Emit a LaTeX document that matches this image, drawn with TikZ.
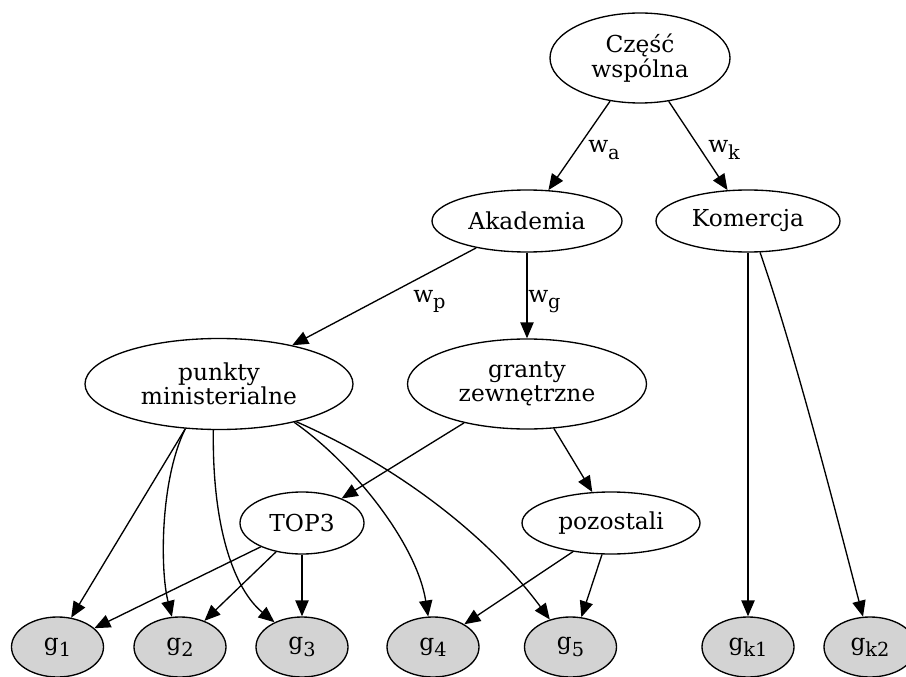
\documentclass[tikz,border=0pt]{standalone}
\usepackage{fontspec}
\setmainfont{DejaVu Serif}
\usetikzlibrary{shapes.geometric,arrows.meta}
\newcommand\mysub[1]{\raisebox{-4.7pt}{\fontsize{14.5}{14.5}\selectfont #1}}
\definecolor{gfill}{HTML}{D3D3D3}
\begin{document}
\begin{tikzpicture}[x=0.75pt,y=-0.75pt,
  every node/.style={font=\fontsize{17.5}{18.4}\selectfont},
  ell/.style={ellipse,draw,line width=1pt,inner sep=0pt,align=center},
  gn/.style={ell,fill=gfill,minimum width=69pt,minimum height=45pt},
  arr/.style={-{Triangle[length=12pt,width=10pt]},line width=1pt},
  lab/.style={inner sep=0pt,anchor=base west}]
\useasboundingbox (0,0) rectangle (906,677);
\fill[white] (0,0) rectangle (906,677);
% nodes
\node[ell,minimum width=135pt,minimum height=67.5pt] (cw) at (640,58) {Część\\wspólna};
\node[ell,minimum width=142.5pt,minimum height=46.5pt] (ak) at (527,221) {Akademia};
\node[ell,minimum width=138pt,minimum height=46.5pt] (ko) at (748,221) {Komercja};
\node[ell,minimum width=201pt,minimum height=68.25pt] (pm) at (219,384) {punkty\\ministerialne};
\node[ell,minimum width=179.25pt,minimum height=67.5pt] (gz) at (527,384) {granty\\zewnętrzne};
\node[ell,minimum width=93pt,minimum height=46.5pt] (top3) at (302,523) {TOP3};
\node[ell,minimum width=133.5pt,minimum height=46.5pt] (poz) at (611,523) {pozostali};
\node[gn] (g1) at (57.5,647) {g\mysub{1}};
\node[gn] (g2) at (180,647) {g\mysub{2}};
\node[gn] (g3) at (302,647) {g\mysub{3}};
\node[gn] (g4) at (433,647) {g\mysub{4}};
\node[gn] (g5) at (570.5,647) {g\mysub{5}};
\node[gn] (gk1) at (748,647) {g\mysub{k1}};
\node[gn] (gk2) at (870,647) {g\mysub{k2}};
% edge labels
\node[lab] (lwa) at (588,153) {w\mysub{a}};
\node[lab] (lwk) at (708,153) {w\mysub{k}};
\node[lab] (lwp) at (413,302) {w\mysub{p}};
\node[lab] (lwg) at (528,302) {w\mysub{g}};
% edges
\draw[arr] (cw) -- (ak);
\draw[arr] (cw) -- (ko);
\draw[arr] (ak) -- (pm);
\draw[arr] (ak) -- (gz);
\draw[arr] (ko) -- (gk1);
\draw[arr] (ko.291) .. controls (795,353) and (837,517) .. (gk2.103);
\draw[arr] (gz) -- (top3);
\draw[arr] (gz) -- (poz);
\draw[arr] (pm.233) -- (g1.65);
\draw[arr] (pm.233) .. controls (160,480) and (160,570) .. (g2.105);
\draw[arr] (pm.263) .. controls (212,530) and (235,590) .. (g3.138);
\draw[arr] (pm.333) .. controls (355,465) and (417,545) .. (g4.99);
\draw[arr] (pm.334) .. controls (410,472) and (495,545) .. (g5.127);
\draw[arr] (top3.210) -- (g1.27);
\draw[arr] (top3.228) -- (g2.47);
\draw[arr] (top3) -- (g3);
\draw[arr] (poz.217) -- (g4.36);
\draw[arr] (poz.254) -- (g5.70);
\end{tikzpicture}
\end{document}
